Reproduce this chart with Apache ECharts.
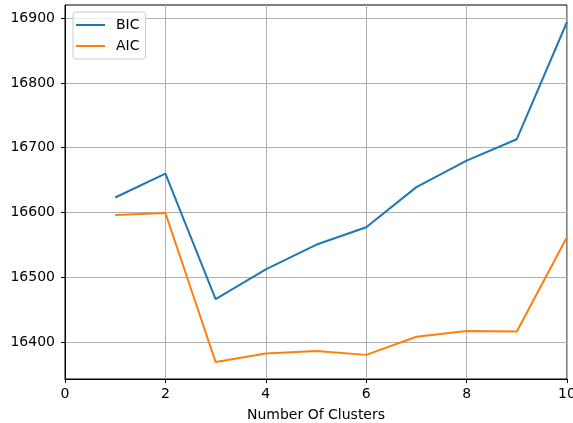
<!DOCTYPE html>
<html>
<head>
<meta charset="utf-8">
<script src="https://cdn.jsdelivr.net/npm/echarts@6/dist/echarts.min.js"></script>
<style>
  html, body { margin: 0; padding: 0; background: #fff; }
  #chart { width: 573px; height: 423px; }
</style>
</head>
<body>
<div id="chart"></div>
<script>
const clusters = [1, 2, 3, 4, 5, 6, 7, 8, 9, 10];
const bicValues = [16623, 16660, 16466, 16512, 16550, 16577, 16639, 16680, 16713, 16894];
const aicValues = [16596, 16599, 16369, 16382, 16386, 16380, 16408, 16417, 16416, 16562];
const yTicks = [16400, 16500, 16600, 16700, 16800, 16900];
const xTicks = [0, 2, 4, 6, 8, 10];

const allVals = bicValues.concat(aicValues);
const dMin = Math.min(...allVals), dMax = Math.max(...allVals);
const pad = (dMax - dMin) * 0.05;

const font = 'DejaVu Sans';
const chart = echarts.init(document.getElementById('chart'), null, { renderer: 'canvas' });
chart.setOption({
  animation: false,
  backgroundColor: '#fff',
  grid: { left: 65, right: 6, top: 5, bottom: 44, show: true, borderColor: '#000', borderWidth: 1,
          backgroundColor: 'transparent', outerBoundsMode: 'none', containLabel: false },
  legend: {
    orient: 'vertical', left: 73, top: 12,
    data: ['BIC', 'AIC'],
    icon: 'rect', itemWidth: 29, itemHeight: 2, itemGap: 5,
    padding: [5, 6, 5, 3],
    backgroundColor: 'rgba(255,255,255,0.8)',
    borderColor: '#cccccc', borderWidth: 1, borderRadius: 3,
    textStyle: { fontFamily: font, fontSize: 14, color: '#000', padding: [0, 0, 0, 6], lineHeight: 16 }
  },
  xAxis: {
    type: 'value', min: 0, max: 10, interval: 2,
    name: 'Number Of Clusters', nameLocation: 'middle', nameGap: 29,
    nameTextStyle: { fontFamily: font, fontSize: 14, color: '#000' },
    axisLine: { show: true, lineStyle: { color: '#000', width: 1 } },
    axisTick: { show: true, length: 4, lineStyle: { color: '#000' } },
    axisLabel: { fontFamily: font, fontSize: 14, color: '#000', margin: 8, showMaxLabel: true, showMinLabel: true },
    splitLine: { show: true, lineStyle: { color: '#b0b0b0', width: 1 } }
  },
  yAxis: {
    type: 'value',
    min: dMin - pad, max: dMax + pad,
    axisLine: { show: true, lineStyle: { color: '#000', width: 1 } },
    axisTick: { show: true, length: 4, lineStyle: { color: '#000' }, customValues: yTicks },
    axisLabel: { fontFamily: font, fontSize: 14, color: '#000', margin: 10, customValues: yTicks,
                 formatter: v => String(Math.round(v)) },
    splitLine: { show: true, lineStyle: { color: '#b0b0b0', width: 1 } }
  },
  series: [
    { name: 'BIC', type: 'line', data: clusters.map((c, i) => [c, bicValues[i]]), symbol: 'none',
      lineStyle: { color: '#1f77b4', width: 2 }, itemStyle: { color: '#1f77b4' } },
    { name: 'AIC', type: 'line', data: clusters.map((c, i) => [c, aicValues[i]]), symbol: 'none',
      lineStyle: { color: '#ff7f0e', width: 2 }, itemStyle: { color: '#ff7f0e' } }
  ]
});
</script>
</body>
</html>
